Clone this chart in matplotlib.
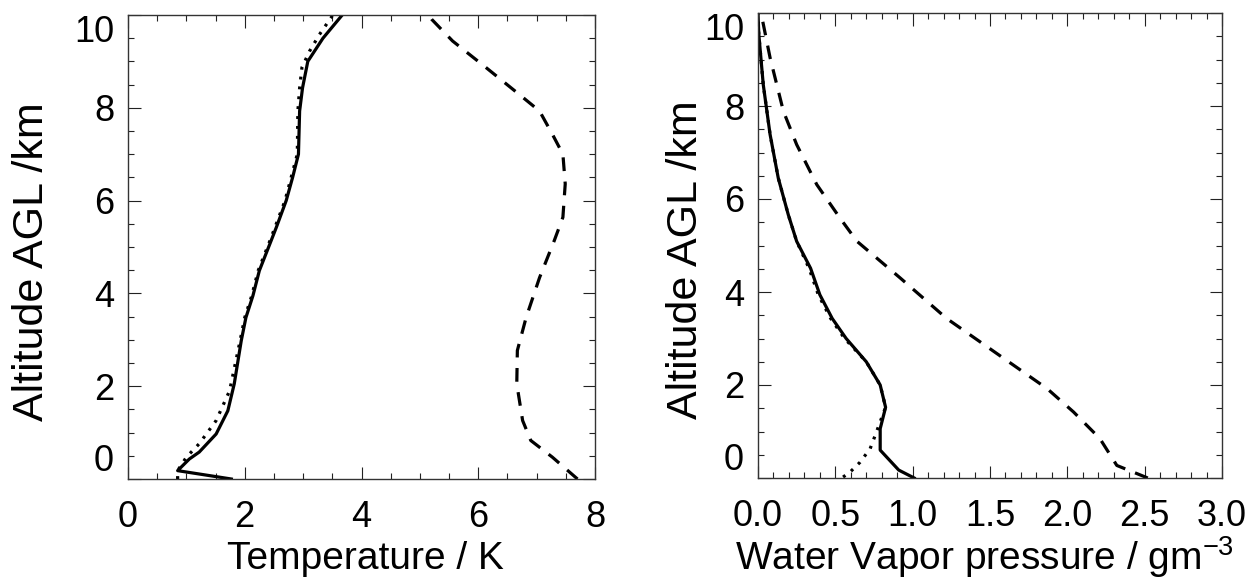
import matplotlib
matplotlib.use("Agg")
import matplotlib.pyplot as plt
from matplotlib.ticker import MultipleLocator

plt.rcParams['font.family'] = ['Liberation Sans', 'DejaVu Sans']

# ---- Left panel: temperature profiles ----
alt_t_solid = [0.0, 0.18, 0.43, 0.58, 0.97, 1.47, 2.05, 2.98, 3.48, 3.95, 4.49, 5.13, 5.42, 6.0, 6.5, 7.0, 7.93, 8.43, 9.0, 9.5, 10.0]
T_solid = [1.77, 0.85, 1.05, 1.22, 1.51, 1.71, 1.82, 1.94, 2.02, 2.14, 2.25, 2.45, 2.54, 2.71, 2.82, 2.92, 2.94, 2.99, 3.08, 3.34, 3.67]

alt_t_dot = [0.0, 0.18, 0.47, 0.76, 1.26, 1.9, 2.98, 3.48, 3.95, 4.49, 5.13, 6.0, 7.0, 7.93, 8.43, 8.87, 9.22, 9.58, 10.0]
T_dot = [0.85, 0.85, 1.0, 1.22, 1.51, 1.74, 1.92, 2.0, 2.12, 2.23, 2.43, 2.69, 2.90, 2.91, 2.94, 2.98, 3.11, 3.28, 3.51]

alt_t_dash = [0.0, 0.47, 0.83, 1.26, 2.05, 2.77, 3.48, 4.34, 5.13, 5.64, 6.36, 7.0, 7.43, 7.93, 8.29, 8.87, 9.44, 9.91, 10.0]
T_dash = [7.70, 7.27, 6.90, 6.76, 6.66, 6.67, 6.82, 7.05, 7.30, 7.45, 7.49, 7.45, 7.27, 7.05, 6.70, 6.13, 5.56, 5.20, 5.15]

# ---- Right panel: water vapour profiles ----
alt_w_solid = [0.0, 0.17, 0.6, 1.06, 1.52, 2.0, 2.5, 3.0, 3.43, 3.94, 4.51, 5.09, 5.66, 6.45, 7.39, 8.46, 9.55, 10.0]
w_solid = [1.01, 0.91, 0.79, 0.79, 0.825, 0.79, 0.70, 0.57, 0.48, 0.40, 0.34, 0.25, 0.196, 0.131, 0.078, 0.034, 0.005, 0.0]

alt_w_dot = [0.02, 0.13, 0.34, 0.63, 0.99, 1.3, 1.52, 2.0, 2.5, 3.0, 3.43, 3.94, 4.51, 5.09, 5.66, 6.45, 7.39, 8.46, 9.55, 10.0]
w_dot = [0.55, 0.596, 0.66, 0.725, 0.766, 0.80, 0.825, 0.79, 0.70, 0.56, 0.47, 0.39, 0.33, 0.25, 0.196, 0.131, 0.078, 0.034, 0.005, 0.0]

alt_w_dash = [0.0, 0.27, 0.85, 1.42, 1.92, 2.64, 3.43, 4.30, 5.09, 5.59, 6.31, 7.17, 7.89, 9.04, 9.83, 10.0]
w_dash = [2.52, 2.32, 2.21, 2.04, 1.87, 1.56, 1.22, 0.92, 0.64, 0.53, 0.38, 0.25, 0.164, 0.078, 0.03, 0.02]

t_ticks = [0, 2, 4, 6, 8]
w_ticks = [0.0, 0.5, 1.0, 1.5, 2.0, 2.5, 3.0]
alt_ticks = [0, 2, 4, 6, 8, 10]

FS = 26
FS_X = 28
FS_Y = 31
LW = 2.3
DOT = (0, (0.9, 2.2))
DASH = (0, (4.3, 3.3))

fig = plt.figure(figsize=(12.59, 5.78), dpi=100)
axL = fig.add_axes([128/1259, (578-479)/578, 467/1259, 464/578])
axR = fig.add_axes([758/1259, (578-478)/578, 464/1259, 465/578])


def style(ax, xmax, xminor, xticks, xfmt):
    ax.set_ylim(0, 10)
    ax.set_xlim(0, xmax)
    ax.set_xticks(xticks)
    ax.set_xticklabels([xfmt.format(v) for v in xticks])
    ax.xaxis.set_minor_locator(MultipleLocator(xminor))
    ax.set_yticks(alt_ticks)
    ax.set_yticklabels([str(v) for v in alt_ticks])
    ax.yaxis.set_minor_locator(MultipleLocator(0.5))
    ax.tick_params(which='both', direction='in', top=True, right=True,
                   width=0.8, color='#222222')
    ax.tick_params(which='major', length=9, labelsize=FS)
    ax.tick_params(which='minor', length=4)
    ax.tick_params(axis='x', which='major', pad=15)
    ax.tick_params(axis='y', which='major', pad=10)
    for s in ax.spines.values():
        s.set_linewidth(1.0)
        s.set_color('#333333')
    labs = ax.get_yticklabels()
    labs[0].set_verticalalignment('bottom')
    labs[-1].set_verticalalignment('top')


style(axL, 8, 0.5, t_ticks, "{:d}")
style(axR, 3.0, 0.1, w_ticks, "{:.1f}")

axL.plot(T_solid, alt_t_solid, color='black', lw=LW)
axL.plot(T_dot, alt_t_dot, color='black', lw=LW, linestyle=DOT)
axL.plot(T_dash, alt_t_dash, color='black', lw=LW, linestyle=DASH)

axR.plot(w_solid, alt_w_solid, color='black', lw=LW)
axR.plot(w_dot, alt_w_dot, color='black', lw=LW, linestyle=DOT)
axR.plot(w_dash, alt_w_dash, color='black', lw=LW, linestyle=DASH)

axL.set_xlabel('Temperature / K', fontsize=FS_X)
axL.xaxis.set_label_coords(0.509, -0.133)
axR.set_xlabel('Water Vapor pressure / gm$^{\\mathregular{-3}}$', fontsize=FS_X)
axR.xaxis.set_label_coords(0.487, -0.12)

axL.set_ylabel('Altitude AGL /km', fontsize=FS_Y)
axL.yaxis.set_label_coords(-0.163, 0.469)
axR.set_ylabel('Altitude AGL /km', fontsize=FS_Y)
axR.yaxis.set_label_coords(-0.113, 0.469)

fig.savefig('out.png', dpi=100)
